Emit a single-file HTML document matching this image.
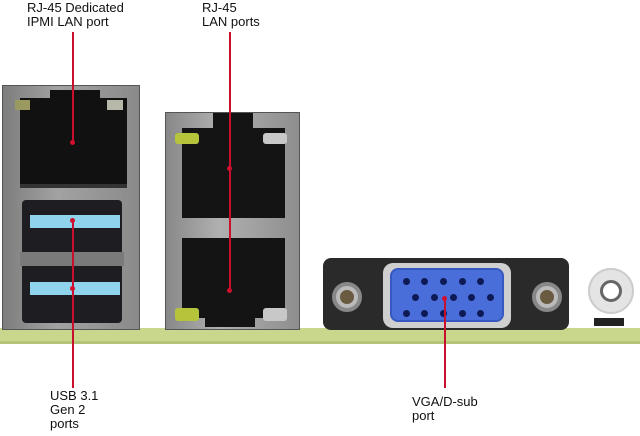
<!DOCTYPE html>
<html><head><style>
body{margin:0;width:640px;height:436px;background:#fff;position:relative;overflow:hidden;font-family:"Liberation Sans",Arial,sans-serif}
div{position:absolute;box-sizing:border-box}
.t{font-size:13px;line-height:14px;color:#111}
.r{background:#c8102e;width:1.5px}
.d{background:#d0102e;width:5px;height:5px;border-radius:50%}
.p{width:7px;height:7px;border-radius:50%;background:#0d1a55}
</style></head><body>
<div style="left:0;top:328px;width:640px;height:16px;background:#c9d78c"></div>
<div style="left:0;top:341px;width:640px;height:3px;background:#b4c27a"></div>

<!-- left module -->
<div style="left:2px;top:85px;width:138px;height:245px;background:linear-gradient(90deg,#7d7d7d,#a2a2a2 40%,#8a8a8a);border:1px solid #555"></div>
<div style="left:20px;top:98px;width:107px;height:90px;background:#111;border-bottom:4px solid #333"></div>
<div style="left:50px;top:90px;width:50px;height:12px;background:#111"></div>
<div style="left:15px;top:100px;width:15px;height:10px;background:#9a9a60"></div>
<div style="left:107px;top:100px;width:16px;height:10px;background:#b8b8a8"></div>
<div style="left:22px;top:200px;width:100px;height:55px;background:#1d1d22;border-radius:4px"></div>
<div style="left:22px;top:263px;width:100px;height:60px;background:#1d1d22;border-radius:4px"></div>
<div style="left:20px;top:252px;width:104px;height:14px;background:#7a7a7a"></div>
<div style="left:30px;top:215px;width:90px;height:13px;background:#8fd3ec"></div>
<div style="left:30px;top:282px;width:90px;height:13px;background:#8fd3ec"></div>

<!-- right module -->
<div style="left:165px;top:112px;width:135px;height:218px;background:linear-gradient(90deg,#888,#b0b0b0 40%,#8e8e8e);border:1px solid #555"></div>
<div style="left:182px;top:128px;width:103px;height:90px;background:#141414"></div>
<div style="left:213px;top:113px;width:40px;height:18px;background:#141414"></div>
<div style="left:175px;top:133px;width:24px;height:11px;background:#b5c43a;border-radius:3px"></div>
<div style="left:263px;top:133px;width:24px;height:11px;background:#c8c8c8;border-radius:3px"></div>
<div style="left:182px;top:238px;width:103px;height:80px;background:#141414"></div>
<div style="left:205px;top:315px;width:50px;height:12px;background:#141414"></div>
<div style="left:175px;top:308px;width:24px;height:13px;background:#b5c43a;border-radius:3px"></div>
<div style="left:263px;top:308px;width:24px;height:13px;background:#c8c8c8;border-radius:3px"></div>

<!-- VGA -->
<div style="left:323px;top:258px;width:246px;height:72px;background:#2a2a2a;border-radius:8px"></div>
<div style="left:383px;top:263px;width:128px;height:65px;background:#cfcfcf;border-radius:10px"></div>
<div style="left:390px;top:268px;width:114px;height:54px;background:#4a6ed9;border-radius:8px;border:2px solid #3658c0"></div>
<div class="p" style="left:403px;top:278px"></div><div class="p" style="left:421px;top:278px"></div><div class="p" style="left:440px;top:278px"></div><div class="p" style="left:459px;top:278px"></div><div class="p" style="left:477px;top:278px"></div>
<div class="p" style="left:412px;top:294px"></div><div class="p" style="left:431px;top:294px"></div><div class="p" style="left:450px;top:294px"></div><div class="p" style="left:468px;top:294px"></div><div class="p" style="left:487px;top:294px"></div>
<div class="p" style="left:403px;top:310px"></div><div class="p" style="left:421px;top:310px"></div><div class="p" style="left:440px;top:310px"></div><div class="p" style="left:459px;top:310px"></div><div class="p" style="left:477px;top:310px"></div>
<div style="left:332px;top:282px;width:30px;height:30px;border-radius:50%;background:#bbb;border:4px solid #888"></div>
<div style="left:340px;top:290px;width:14px;height:14px;border-radius:50%;background:#6a5a40"></div>
<div style="left:532px;top:282px;width:30px;height:30px;border-radius:50%;background:#bbb;border:4px solid #888"></div>
<div style="left:540px;top:290px;width:14px;height:14px;border-radius:50%;background:#6a5a40"></div>
<div style="left:588px;top:268px;width:46px;height:46px;border-radius:50%;background:#e4e4e4;border:2px solid #ccc"></div>
<div style="left:600px;top:280px;width:22px;height:22px;border-radius:50%;border:3px solid #666;background:#fff"></div>
<div style="left:594px;top:318px;width:30px;height:8px;background:#222"></div>

<!-- labels -->
<div class="t" style="left:27px;top:1px">RJ-45 Dedicated<br>IPMI LAN port</div>
<div class="t" style="left:202px;top:1px">RJ-45<br>LAN ports</div>
<div class="t" style="left:50px;top:389px">USB 3.1<br>Gen 2<br>ports</div>
<div class="t" style="left:412px;top:395px">VGA/D-sub<br>port</div>

<div class="r" style="left:72px;top:32px;height:110px"></div><div class="d" style="left:70px;top:140px"></div>
<div class="r" style="left:229px;top:32px;height:258px"></div><div class="d" style="left:227px;top:166px"></div><div class="d" style="left:227px;top:288px"></div>
<div class="r" style="left:72px;top:220px;height:168px"></div><div class="d" style="left:70px;top:218px"></div><div class="d" style="left:70px;top:286px"></div>
<div class="r" style="left:444px;top:298px;height:90px"></div><div class="d" style="left:442px;top:296px"></div>
</body></html>
